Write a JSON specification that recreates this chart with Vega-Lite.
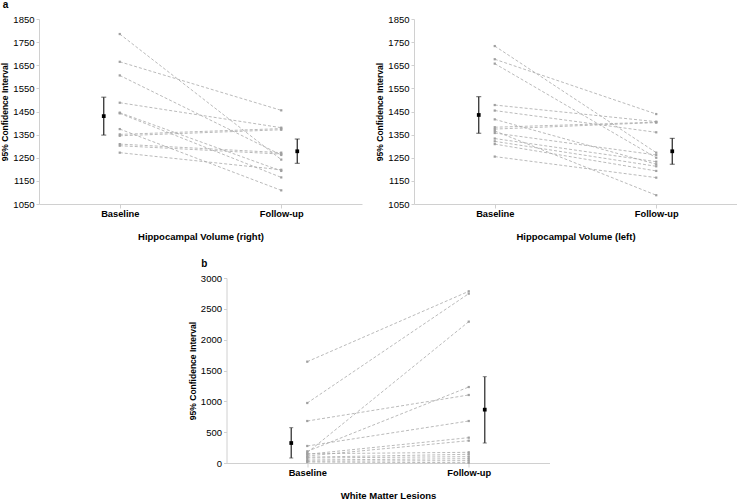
{
  "$schema": "https://vega.github.io/schema/vega-lite/v6.json",
  "padding": 0,
  "spacing": 18,
  "center": true,
  "datasets": {
    "hr": [
      {"s": 1, "time": "Baseline", "v": 1785}, {"s": 1, "time": "Follow-up", "v": 1242},
      {"s": 2, "time": "Baseline", "v": 1665}, {"s": 2, "time": "Follow-up", "v": 1455},
      {"s": 3, "time": "Baseline", "v": 1606}, {"s": 3, "time": "Follow-up", "v": 1262},
      {"s": 4, "time": "Baseline", "v": 1488}, {"s": 4, "time": "Follow-up", "v": 1380},
      {"s": 5, "time": "Baseline", "v": 1445}, {"s": 5, "time": "Follow-up", "v": 1193},
      {"s": 6, "time": "Baseline", "v": 1442}, {"s": 6, "time": "Follow-up", "v": 1165},
      {"s": 7, "time": "Baseline", "v": 1374}, {"s": 7, "time": "Follow-up", "v": 1109},
      {"s": 8, "time": "Baseline", "v": 1351}, {"s": 8, "time": "Follow-up", "v": 1376},
      {"s": 9, "time": "Baseline", "v": 1345}, {"s": 9, "time": "Follow-up", "v": 1371},
      {"s": 10, "time": "Baseline", "v": 1309}, {"s": 10, "time": "Follow-up", "v": 1272},
      {"s": 11, "time": "Baseline", "v": 1302}, {"s": 11, "time": "Follow-up", "v": 1266},
      {"s": 12, "time": "Baseline", "v": 1272}, {"s": 12, "time": "Follow-up", "v": 1198}
    ],
    "hr_ci": [
      {"time": "Baseline", "mean": 1430, "lo": 1348, "hi": 1512},
      {"time": "Follow-up", "mean": 1278, "lo": 1226, "hi": 1331}
    ],
    "hl": [
      {"s": 1, "time": "Baseline", "v": 1733}, {"s": 1, "time": "Follow-up", "v": 1272},
      {"s": 2, "time": "Baseline", "v": 1676}, {"s": 2, "time": "Follow-up", "v": 1439},
      {"s": 3, "time": "Baseline", "v": 1657}, {"s": 3, "time": "Follow-up", "v": 1250},
      {"s": 4, "time": "Baseline", "v": 1478}, {"s": 4, "time": "Follow-up", "v": 1406},
      {"s": 5, "time": "Baseline", "v": 1454}, {"s": 5, "time": "Follow-up", "v": 1360},
      {"s": 6, "time": "Baseline", "v": 1416}, {"s": 6, "time": "Follow-up", "v": 1222},
      {"s": 7, "time": "Baseline", "v": 1382}, {"s": 7, "time": "Follow-up", "v": 1404},
      {"s": 8, "time": "Baseline", "v": 1374}, {"s": 8, "time": "Follow-up", "v": 1402},
      {"s": 9, "time": "Baseline", "v": 1366}, {"s": 9, "time": "Follow-up", "v": 1088},
      {"s": 10, "time": "Baseline", "v": 1357}, {"s": 10, "time": "Follow-up", "v": 1262},
      {"s": 11, "time": "Baseline", "v": 1333}, {"s": 11, "time": "Follow-up", "v": 1233},
      {"s": 12, "time": "Baseline", "v": 1321}, {"s": 12, "time": "Follow-up", "v": 1213},
      {"s": 13, "time": "Baseline", "v": 1309}, {"s": 13, "time": "Follow-up", "v": 1193},
      {"s": 14, "time": "Baseline", "v": 1255}, {"s": 14, "time": "Follow-up", "v": 1164}
    ],
    "hl_ci": [
      {"time": "Baseline", "mean": 1435, "lo": 1356, "hi": 1514},
      {"time": "Follow-up", "mean": 1278, "lo": 1222, "hi": 1334}
    ],
    "wml": [
      {"s": 1, "time": "Baseline", "v": 1643}, {"s": 1, "time": "Follow-up", "v": 2784},
      {"s": 2, "time": "Baseline", "v": 973}, {"s": 2, "time": "Follow-up", "v": 2746},
      {"s": 3, "time": "Baseline", "v": 681}, {"s": 3, "time": "Follow-up", "v": 1103},
      {"s": 4, "time": "Baseline", "v": 276}, {"s": 4, "time": "Follow-up", "v": 681},
      {"s": 5, "time": "Baseline", "v": 189}, {"s": 5, "time": "Follow-up", "v": 1232},
      {"s": 6, "time": "Baseline", "v": 168}, {"s": 6, "time": "Follow-up", "v": 2292},
      {"s": 7, "time": "Baseline", "v": 150}, {"s": 7, "time": "Follow-up", "v": 173},
      {"s": 8, "time": "Baseline", "v": 141}, {"s": 8, "time": "Follow-up", "v": 411},
      {"s": 9, "time": "Baseline", "v": 114}, {"s": 9, "time": "Follow-up", "v": 362},
      {"s": 10, "time": "Baseline", "v": 95}, {"s": 10, "time": "Follow-up", "v": 141},
      {"s": 11, "time": "Baseline", "v": 81}, {"s": 11, "time": "Follow-up", "v": 103},
      {"s": 12, "time": "Baseline", "v": 49}, {"s": 12, "time": "Follow-up", "v": 70},
      {"s": 13, "time": "Baseline", "v": 30}, {"s": 13, "time": "Follow-up", "v": 38},
      {"s": 14, "time": "Baseline", "v": 16}, {"s": 14, "time": "Follow-up", "v": 5}
    ],
    "wml_ci": [
      {"time": "Baseline", "mean": 324, "lo": 81, "hi": 573},
      {"time": "Follow-up", "mean": 865, "lo": 324, "hi": 1400}
    ]
  },
  "vconcat": [
    {
      "title": {"text": "a", "frame": "bounds", "anchor": "start", "dx": 2},
      "spacing": 13,
      "hconcat": [
        {
          "width": 323, "height": 185,
          "encoding": {
            "x": {"field": "time", "type": "nominal", "scale": {"type": "point", "domain": ["Baseline", "Follow-up"], "padding": 0.5}, "title": "Hippocampal Volume (right)"}
          },
          "layer": [
            {"data": {"name": "hr"},
             "mark": {"type": "line", "color": "#a8a8a8", "strokeWidth": 0.8, "strokeDash": [3, 2], "point": {"shape": "square", "size": 5, "color": "#a0a0a0", "filled": true}},
             "encoding": {
               "y": {"field": "v", "type": "quantitative", "scale": {"domain": [1050, 1850], "nice": false, "zero": false}, "axis": {"values": [1050, 1150, 1250, 1350, 1450, 1550, 1650, 1750, 1850]}, "title": "95% Confidence Interval"},
               "detail": {"field": "s", "type": "nominal"}}},
            {"data": {"name": "hr_ci"},
             "transform": [{"filter": "datum.time === 'Baseline'"}],
             "layer": [
               {"mark": {"type": "rule", "color": "#222222", "strokeWidth": 1.2, "xOffset": -16},
                "encoding": {"y": {"field": "lo", "type": "quantitative", "axis": {"values": [1050, 1150, 1250, 1350, 1450, 1550, 1650, 1750, 1850]}, "title": "95% Confidence Interval"}, "y2": {"field": "hi"}}},
               {"mark": {"type": "tick", "color": "#222222", "size": 5, "thickness": 1, "xOffset": -16},
                "encoding": {"y": {"field": "lo", "type": "quantitative", "axis": {"values": [1050, 1150, 1250, 1350, 1450, 1550, 1650, 1750, 1850]}, "title": "95% Confidence Interval"}}},
               {"mark": {"type": "tick", "color": "#222222", "size": 5, "thickness": 1, "xOffset": -16},
                "encoding": {"y": {"field": "hi", "type": "quantitative", "axis": {"values": [1050, 1150, 1250, 1350, 1450, 1550, 1650, 1750, 1850]}, "title": "95% Confidence Interval"}}},
               {"mark": {"type": "point", "shape": "square", "filled": true, "size": 14, "color": "#000000", "opacity": 1, "xOffset": -16},
                "encoding": {"y": {"field": "mean", "type": "quantitative", "axis": {"values": [1050, 1150, 1250, 1350, 1450, 1550, 1650, 1750, 1850]}, "title": "95% Confidence Interval"}}}
             ]},
            {"data": {"name": "hr_ci"},
             "transform": [{"filter": "datum.time === 'Follow-up'"}],
             "layer": [
               {"mark": {"type": "rule", "color": "#222222", "strokeWidth": 1.2, "xOffset": 16},
                "encoding": {"y": {"field": "lo", "type": "quantitative", "axis": {"values": [1050, 1150, 1250, 1350, 1450, 1550, 1650, 1750, 1850]}, "title": "95% Confidence Interval"}, "y2": {"field": "hi"}}},
               {"mark": {"type": "tick", "color": "#222222", "size": 5, "thickness": 1, "xOffset": 16},
                "encoding": {"y": {"field": "lo", "type": "quantitative", "axis": {"values": [1050, 1150, 1250, 1350, 1450, 1550, 1650, 1750, 1850]}, "title": "95% Confidence Interval"}}},
               {"mark": {"type": "tick", "color": "#222222", "size": 5, "thickness": 1, "xOffset": 16},
                "encoding": {"y": {"field": "hi", "type": "quantitative", "axis": {"values": [1050, 1150, 1250, 1350, 1450, 1550, 1650, 1750, 1850]}, "title": "95% Confidence Interval"}}},
               {"mark": {"type": "point", "shape": "square", "filled": true, "size": 14, "color": "#000000", "opacity": 1, "xOffset": 16},
                "encoding": {"y": {"field": "mean", "type": "quantitative", "axis": {"values": [1050, 1150, 1250, 1350, 1450, 1550, 1650, 1750, 1850]}, "title": "95% Confidence Interval"}}}
             ]}
          ]
        },
        {
          "width": 323, "height": 185,
          "encoding": {
            "x": {"field": "time", "type": "nominal", "scale": {"type": "point", "domain": ["Baseline", "Follow-up"], "padding": 0.5}, "title": "Hippocampal Volume (left)"}
          },
          "layer": [
            {"data": {"name": "hl"},
             "mark": {"type": "line", "color": "#a8a8a8", "strokeWidth": 0.8, "strokeDash": [3, 2], "point": {"shape": "square", "size": 5, "color": "#a0a0a0", "filled": true}},
             "encoding": {
               "y": {"field": "v", "type": "quantitative", "scale": {"domain": [1050, 1850], "nice": false, "zero": false}, "axis": {"values": [1050, 1150, 1250, 1350, 1450, 1550, 1650, 1750, 1850]}, "title": "95% Confidence Interval"},
               "detail": {"field": "s", "type": "nominal"}}},
            {"data": {"name": "hl_ci"},
             "transform": [{"filter": "datum.time === 'Baseline'"}],
             "layer": [
               {"mark": {"type": "rule", "color": "#222222", "strokeWidth": 1.2, "xOffset": -16},
                "encoding": {"y": {"field": "lo", "type": "quantitative", "axis": {"values": [1050, 1150, 1250, 1350, 1450, 1550, 1650, 1750, 1850]}, "title": "95% Confidence Interval"}, "y2": {"field": "hi"}}},
               {"mark": {"type": "tick", "color": "#222222", "size": 5, "thickness": 1, "xOffset": -16},
                "encoding": {"y": {"field": "lo", "type": "quantitative", "axis": {"values": [1050, 1150, 1250, 1350, 1450, 1550, 1650, 1750, 1850]}, "title": "95% Confidence Interval"}}},
               {"mark": {"type": "tick", "color": "#222222", "size": 5, "thickness": 1, "xOffset": -16},
                "encoding": {"y": {"field": "hi", "type": "quantitative", "axis": {"values": [1050, 1150, 1250, 1350, 1450, 1550, 1650, 1750, 1850]}, "title": "95% Confidence Interval"}}},
               {"mark": {"type": "point", "shape": "square", "filled": true, "size": 14, "color": "#000000", "opacity": 1, "xOffset": -16},
                "encoding": {"y": {"field": "mean", "type": "quantitative", "axis": {"values": [1050, 1150, 1250, 1350, 1450, 1550, 1650, 1750, 1850]}, "title": "95% Confidence Interval"}}}
             ]},
            {"data": {"name": "hl_ci"},
             "transform": [{"filter": "datum.time === 'Follow-up'"}],
             "layer": [
               {"mark": {"type": "rule", "color": "#222222", "strokeWidth": 1.2, "xOffset": 16},
                "encoding": {"y": {"field": "lo", "type": "quantitative", "axis": {"values": [1050, 1150, 1250, 1350, 1450, 1550, 1650, 1750, 1850]}, "title": "95% Confidence Interval"}, "y2": {"field": "hi"}}},
               {"mark": {"type": "tick", "color": "#222222", "size": 5, "thickness": 1, "xOffset": 16},
                "encoding": {"y": {"field": "lo", "type": "quantitative", "axis": {"values": [1050, 1150, 1250, 1350, 1450, 1550, 1650, 1750, 1850]}, "title": "95% Confidence Interval"}}},
               {"mark": {"type": "tick", "color": "#222222", "size": 5, "thickness": 1, "xOffset": 16},
                "encoding": {"y": {"field": "hi", "type": "quantitative", "axis": {"values": [1050, 1150, 1250, 1350, 1450, 1550, 1650, 1750, 1850]}, "title": "95% Confidence Interval"}}},
               {"mark": {"type": "point", "shape": "square", "filled": true, "size": 14, "color": "#000000", "opacity": 1, "xOffset": 16},
                "encoding": {"y": {"field": "mean", "type": "quantitative", "axis": {"values": [1050, 1150, 1250, 1350, 1450, 1550, 1650, 1750, 1850]}, "title": "95% Confidence Interval"}}}
             ]}
          ]
        }
      ]
    },
    {
      "title": {"text": "b", "frame": "bounds", "anchor": "start", "dx": 13},
      "width": 323, "height": 185,
      "encoding": {
        "x": {"field": "time", "type": "nominal", "scale": {"type": "point", "domain": ["Baseline", "Follow-up"], "padding": 0.5}, "title": "White Matter Lesions"}
      },
      "layer": [
        {"data": {"name": "wml"},
         "mark": {"type": "line", "color": "#a8a8a8", "strokeWidth": 0.8, "strokeDash": [3, 2], "point": {"shape": "square", "size": 5, "color": "#a0a0a0", "filled": true}},
         "encoding": {
           "y": {"field": "v", "type": "quantitative", "scale": {"domain": [0, 3000], "nice": false}, "axis": {"values": [0, 500, 1000, 1500, 2000, 2500, 3000]}, "title": "95% Confidence Interval"},
           "detail": {"field": "s", "type": "nominal"}}},
        {"data": {"name": "wml_ci"},
         "transform": [{"filter": "datum.time === 'Baseline'"}],
         "layer": [
           {"mark": {"type": "rule", "color": "#444444", "strokeWidth": 1.4, "xOffset": -16},
            "encoding": {"y": {"field": "lo", "type": "quantitative", "axis": {"values": [0, 500, 1000, 1500, 2000, 2500, 3000]}, "title": "95% Confidence Interval"}, "y2": {"field": "hi"}}},
           {"mark": {"type": "tick", "color": "#444444", "size": 4, "thickness": 1, "xOffset": -16},
            "encoding": {"y": {"field": "lo", "type": "quantitative", "axis": {"values": [0, 500, 1000, 1500, 2000, 2500, 3000]}, "title": "95% Confidence Interval"}}},
           {"mark": {"type": "tick", "color": "#444444", "size": 4, "thickness": 1, "xOffset": -16},
            "encoding": {"y": {"field": "hi", "type": "quantitative", "axis": {"values": [0, 500, 1000, 1500, 2000, 2500, 3000]}, "title": "95% Confidence Interval"}}},
           {"mark": {"type": "point", "shape": "square", "filled": true, "size": 14, "color": "#000000", "opacity": 1, "xOffset": -16},
            "encoding": {"y": {"field": "mean", "type": "quantitative", "axis": {"values": [0, 500, 1000, 1500, 2000, 2500, 3000]}, "title": "95% Confidence Interval"}}}
         ]},
        {"data": {"name": "wml_ci"},
         "transform": [{"filter": "datum.time === 'Follow-up'"}],
         "layer": [
           {"mark": {"type": "rule", "color": "#444444", "strokeWidth": 1.4, "xOffset": 16},
            "encoding": {"y": {"field": "lo", "type": "quantitative", "axis": {"values": [0, 500, 1000, 1500, 2000, 2500, 3000]}, "title": "95% Confidence Interval"}, "y2": {"field": "hi"}}},
           {"mark": {"type": "tick", "color": "#444444", "size": 4, "thickness": 1, "xOffset": 16},
            "encoding": {"y": {"field": "lo", "type": "quantitative", "axis": {"values": [0, 500, 1000, 1500, 2000, 2500, 3000]}, "title": "95% Confidence Interval"}}},
           {"mark": {"type": "tick", "color": "#444444", "size": 4, "thickness": 1, "xOffset": 16},
            "encoding": {"y": {"field": "hi", "type": "quantitative", "axis": {"values": [0, 500, 1000, 1500, 2000, 2500, 3000]}, "title": "95% Confidence Interval"}}},
           {"mark": {"type": "point", "shape": "square", "filled": true, "size": 14, "color": "#000000", "opacity": 1, "xOffset": 16},
            "encoding": {"y": {"field": "mean", "type": "quantitative", "axis": {"values": [0, 500, 1000, 1500, 2000, 2500, 3000]}, "title": "95% Confidence Interval"}}}
         ]}
      ]
    }
  ],
  "config": {
    "view": {"stroke": null},
    "font": "Liberation Sans",
    "axis": {"grid": false, "domainColor": "#d0d0d0", "tickColor": "#d0d0d0", "labelColor": "#000000", "titleColor": "#000000", "labelFont": "Liberation Sans", "titleFont": "Liberation Sans", "titleFontWeight": "bold"},
    "axisY": {"labelFontSize": 9.5, "titleFontSize": 8.5, "tickSize": 3, "labelPadding": 2, "titlePadding": 3, "labelOverlap": false, "format": "d"},
    "axisX": {"labelFontSize": 9.3, "labelFontWeight": "bold", "titleFontSize": 9.5, "tickSize": 4, "labelPadding": 1, "titlePadding": 13, "labelAngle": 0},
    "title": {"fontSize": 10, "fontWeight": "bold", "font": "Liberation Sans", "color": "#000000", "offset": 4}
  }
}
